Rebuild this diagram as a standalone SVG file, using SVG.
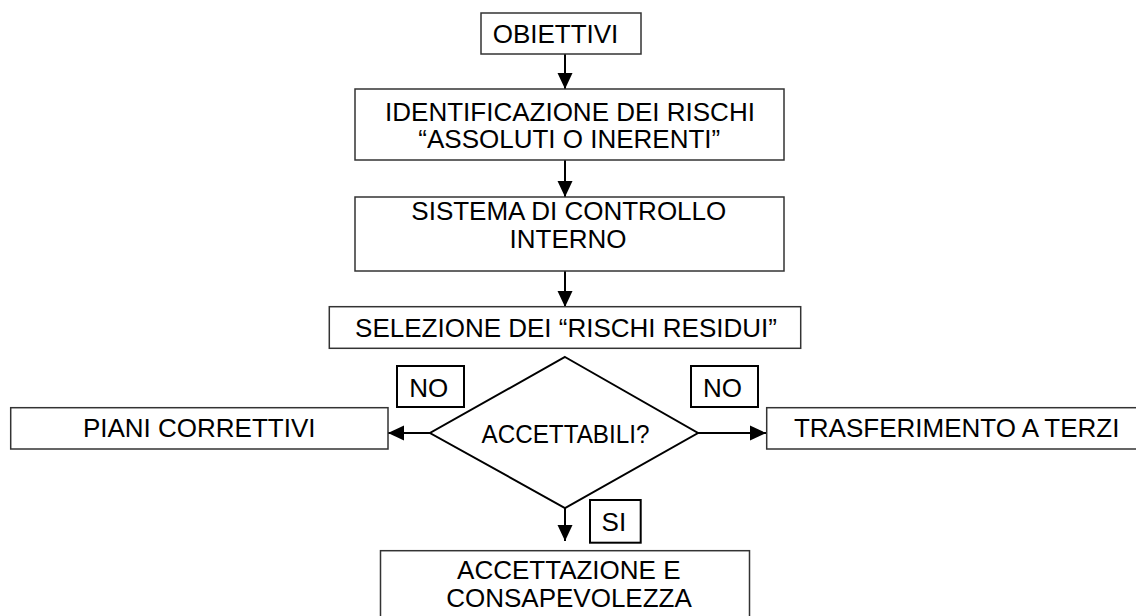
<svg xmlns="http://www.w3.org/2000/svg" width="1136" height="616" viewBox="0 0 1136 616">
<style>
.box{fill:#fff;stroke:#333;stroke-width:1.5}
.lbl{fill:#fff;stroke:#000;stroke-width:2}
.dia{fill:#fff;stroke:#000;stroke-width:2}
.t{font-family:"Liberation Sans",Arial,sans-serif;font-size:26px;fill:#000;text-anchor:middle}
.c{stroke:#000;stroke-width:2;fill:none;marker-end:url(#ah)}
</style>
<defs>
<marker id="ah" markerUnits="userSpaceOnUse" viewBox="0 0 16 16" refX="16" refY="8" markerWidth="16" markerHeight="16" orient="auto">
<path d="M0,0.5 L16,8 L0,15.5 z" fill="#000"/>
</marker>
</defs>
<g id="connectors">
<line class="c" x1="565" y1="54" x2="565" y2="89"/>
<line class="c" x1="565" y1="160" x2="565" y2="197"/>
<line class="c" x1="565" y1="271" x2="565" y2="307"/>
<line class="c" x1="430" y1="433" x2="388" y2="433"/>
<line class="c" x1="698" y1="433" x2="766" y2="433"/>
<line class="c" x1="565" y1="508" x2="565" y2="541"/>
</g>
<g id="obiettivi">
<rect class="box" x="481" y="13" width="160" height="41"/>
<text class="t" x="555.5" y="42.5">OBIETTIVI</text>
</g>
<g id="identificazione">
<rect class="box" x="355" y="89" width="429" height="71"/>
<text class="t" x="570" y="121">IDENTIFICAZIONE DEI RISCHI</text>
<text class="t" x="569.3" y="148.3">“ASSOLUTI O INERENTI”</text>
</g>
<g id="sistema">
<rect class="box" x="355" y="197" width="429" height="74"/>
<text class="t" x="568.8" y="220">SISTEMA DI CONTROLLO</text>
<text class="t" x="568" y="248.3">INTERNO</text>
</g>
<g id="selezione">
<rect class="box" x="329.3" y="306.7" width="471.4" height="41.6"/>
<text class="t" x="566" y="336.7">SELEZIONE DEI “RISCHI RESIDUI”</text>
</g>
<g id="accettabili">
<polygon class="dia" points="565,357 698,433 565,508 430,433"/>
<text class="t" x="565.5" y="443" textLength="168" lengthAdjust="spacingAndGlyphs">ACCETTABILI?</text>
</g>
<g id="no-left">
<rect class="lbl" x="397" y="366" width="67" height="41"/>
<text class="t" x="428.7" y="397">NO</text>
</g>
<g id="no-right">
<rect class="lbl" x="691" y="366" width="67" height="41"/>
<text class="t" x="722.5" y="397">NO</text>
</g>
<g id="piani">
<rect class="box" x="10.7" y="407.7" width="377.3" height="41.3"/>
<text class="t" x="199.2" y="436.5">PIANI CORRETTIVI</text>
</g>
<g id="trasferimento">
<rect class="box" x="766.7" y="407.7" width="380" height="41.3"/>
<text class="t" x="956.7" y="436.5">TRASFERIMENTO A TERZI</text>
</g>
<g id="si">
<rect class="lbl" x="590" y="500" width="50.7" height="42.7"/>
<text class="t" x="613.9" y="530.7">SI</text>
</g>
<g id="accettazione">
<rect class="box" x="380.5" y="550.7" width="369" height="80"/>
<text class="t" x="568.8" y="579.3">ACCETTAZIONE E</text>
<text class="t" x="569" y="607.2">CONSAPEVOLEZZA</text>
</g>
</svg>
